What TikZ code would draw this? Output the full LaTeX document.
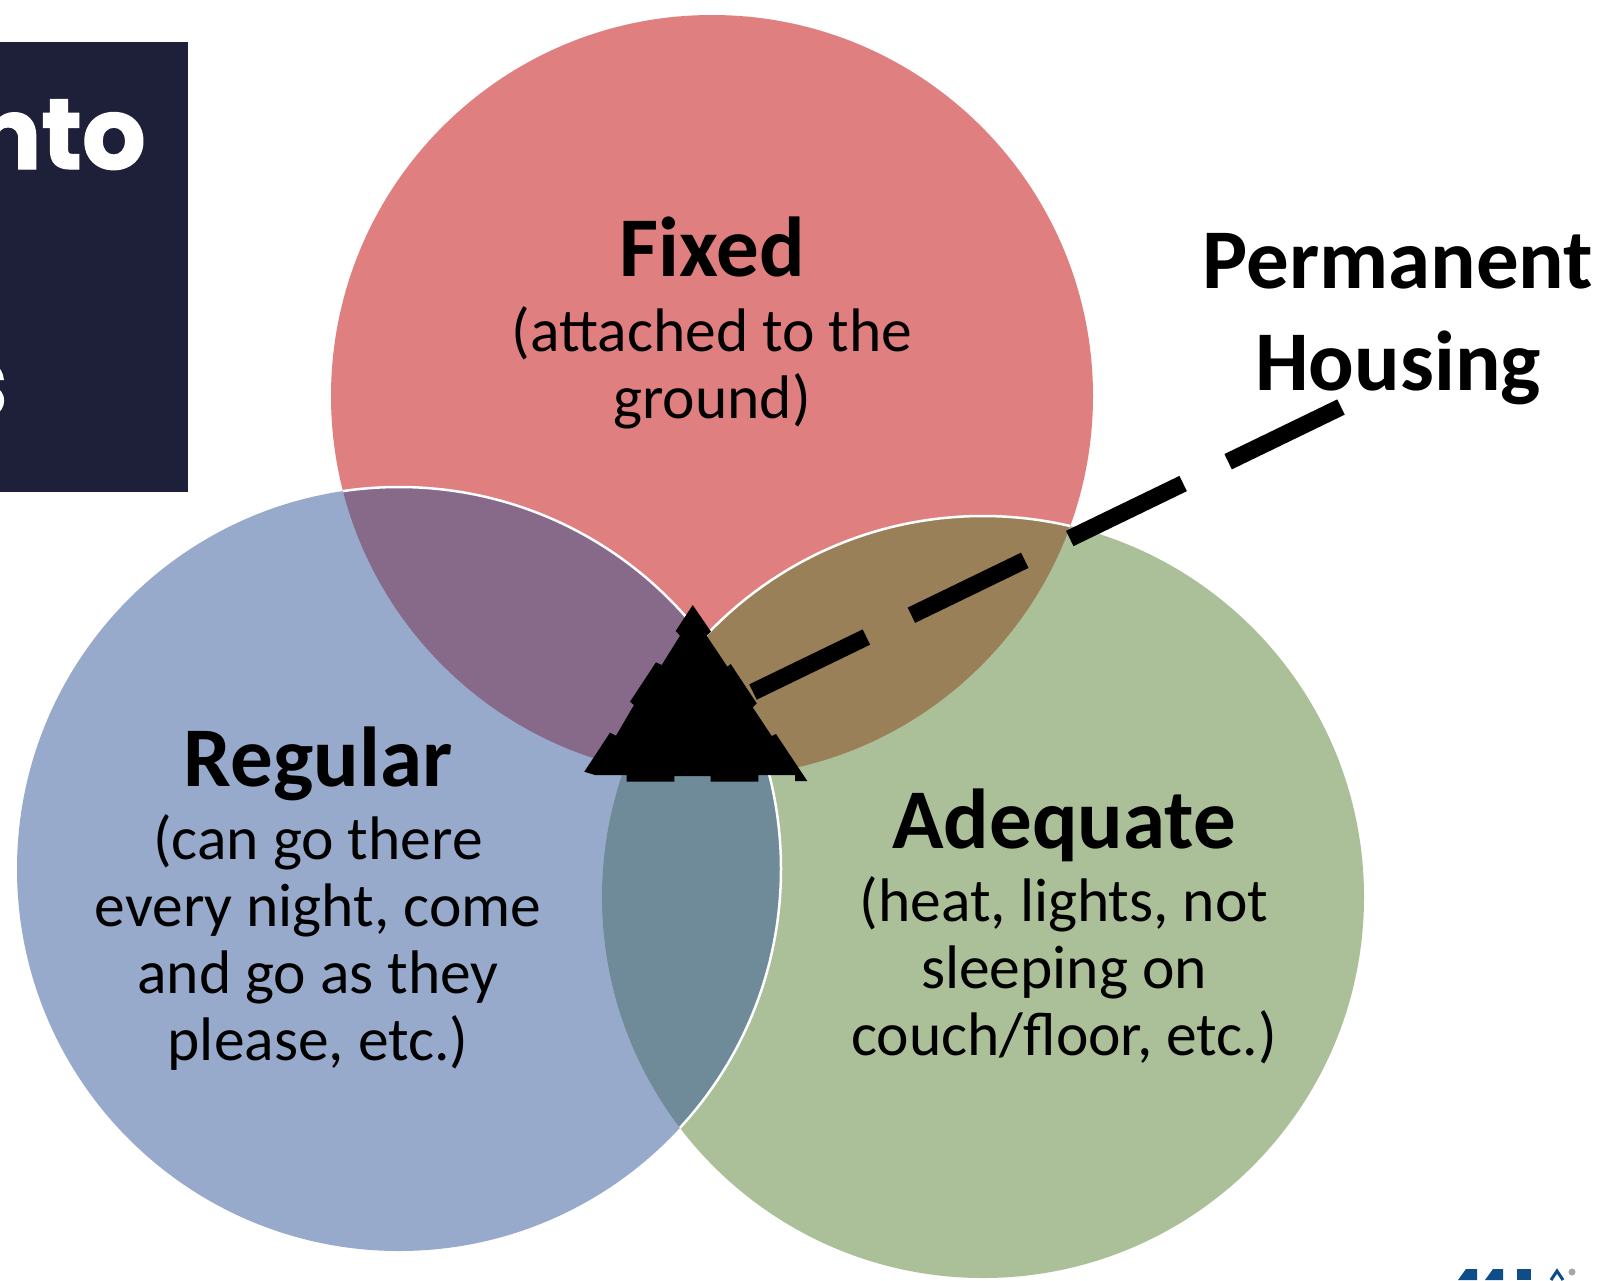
\documentclass[tikz,border=0pt]{standalone}
\usepackage{fontspec}
\setmainfont{Carlito}
\newfontfamily\bannerfont[BoldFeatures={FakeBold=1.2}]{Poppins}
\usepackage{tikz}
\usetikzlibrary{positioning}
\definecolor{fixedred}{HTML}{DF7F7F}
\definecolor{regularblue}{HTML}{98AACC}
\definecolor{adequategreen}{HTML}{ABBF98}
\definecolor{fixregular}{HTML}{876A8A}
\definecolor{fixadequate}{HTML}{9A8059}
\definecolor{regadequate}{HTML}{6F8A99}
\definecolor{bannerdark}{HTML}{1E1F38}
\definecolor{logoblue}{HTML}{0F4C8A}
\tikzset{
  title/.style={font=\fontsize{85}{102}\selectfont\bfseries, inner sep=0pt, anchor=base},
  detail/.style={font=\fontsize{61.5}{67}\selectfont, align=center, inner sep=0pt},
  banner/.style={anchor=base east, inner sep=0pt, text=white, font=\fontsize{100}{100}\selectfont\bannerfont\bfseries},
  rim/.style={white, line width=2.5pt},
  perm/.style={line width=17pt, dash pattern=on 126pt off 50pt}
}
\begin{document}
\begin{tikzpicture}[x=1pt, y=-1pt]
       \useasboundingbox (0,0) rectangle (1622,1280);
       \fill[white] (0,0) rectangle (1622,1280);
       \fill[bannerdark] (0,42) rectangle (188,492);
       \node[banner] (banner_top) at (146,169) {nto};
       \node[banner] (banner_bottom) at (8,417) {s};

       \coordinate (Fixed_c) at (712,396);
       \coordinate (Regular_c) at (399,869);
       \coordinate (Adequate_c) at (983,897);

       \fill[fixedred] (Fixed_c) circle (381);
       \fill[regularblue] (Regular_c) circle (382);
       \fill[adequategreen] (Adequate_c) circle (381);

       % overlaps
       \begin{scope}
         \clip (Fixed_c) circle (381);
         \fill[fixregular] (Regular_c) circle (382);
         \fill[fixadequate] (Adequate_c) circle (381);
         \draw[rim] (Regular_c) circle (382);
         \draw[rim] (Adequate_c) circle (381);
       \end{scope}
       \begin{scope}
         \clip (Regular_c) circle (382);
         \fill[regadequate] (Adequate_c) circle (381);
       \end{scope}
       \begin{scope}
         \clip (Adequate_c) circle (381);
         \draw[rim] (Regular_c) circle (382);
       \end{scope}

       \node[title] (Fixed) at (712,276) {Fixed};
       \node[detail, below=30pt of Fixed.base] (Fixed_txt) {(attached to the\\ground)};
       \node[title] (Regular) at (318,786) {Regular};
       \node[detail, below=28pt of Regular.base] (Regular_txt) {(can go there\\every night, come\\and go as they\\please, etc.)};
       \node[title] (Adequate) at (1064,848) {Adequate};
       \node[detail, below=28pt of Adequate.base] (Adequate_txt) {(heat, lights, not\\sleeping on\\couch/floor, etc.)};
       \node[title, anchor=north, align=center] (Permanent) at (1398,233) {Permanent\\Housing};

       \coordinate (perm_start) at (753,692);
       \coordinate (perm_end) at (1341,407);
       \draw[perm] (perm_start) -- (perm_end);

       % the tip, traced
       \fill[black] (692.7,605) -- (711,631.7) -- (706.7,635.7) -- (727.3,666.7) -- (730.7,664)
         -- (756.7,703.3) -- (752.7,707.3) -- (771.7,736) -- (776,734) -- (807.3,781)
         -- (795,781) -- (795,775) -- (758.3,775) -- (758.3,781.7) -- (710.7,781.7)
         -- (710.7,776) -- (674.3,776) -- (674.3,781.7) -- (626.7,781.7) -- (626.7,775)
         -- (595,775) -- (584.3,771.7) -- (610,732.7) -- (616,735.7) -- (634,705)
         -- (630,701.7) -- (656,662.3) -- (661.7,665) -- (680,635.7) -- (675.7,631) -- cycle;

       % logo scrap, cut by the page
       \fill[logoblue] (1458,1280) -- (1466,1269) -- (1477,1269) -- (1477,1280) -- cycle;
       \fill[logoblue] (1485,1280) -- (1493,1269) -- (1503,1269) -- (1503,1280) -- cycle;
       \fill[logoblue] (1517,1269) rectangle (1531,1280);
       \draw[logoblue, line width=3pt] (1551,1280) -- (1557,1271) -- (1563,1280);
       \fill[gray!70] (1572,1272) circle (3.5);
\end{tikzpicture}
\end{document}
